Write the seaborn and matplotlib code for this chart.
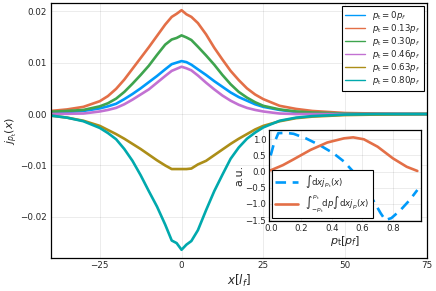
import numpy as np
import pandas as pd
import matplotlib
matplotlib.use('Agg')
import matplotlib.pyplot as plt
import seaborn as sns

# main panel: current density j_{p_t}(x) for several p_t
x = [-40, -35, -30, -25, -22.5, -20, -17.5, -15, -12.5, -10, -7.5, -5, -3, -1.5, 0, 1.5, 3, 5, 7.5, 10, 12.5, 15,
     17.5, 20, 22.5, 25, 30, 35, 40, 50, 60, 75]
j_000 = [0.0003, 0.0004, 0.0006, 0.0011, 0.0015, 0.0020, 0.0029, 0.0039, 0.0050, 0.0062, 0.0074, 0.0087, 0.0097,
         0.0100, 0.0103, 0.0101, 0.0096, 0.0087, 0.0076, 0.0064, 0.0053, 0.0042, 0.0033, 0.0026, 0.0019, 0.0014,
         0.0008, 0.0004, 0.0002, 0.0001, 0.0, 0.0]
j_013 = [0.0006, 0.0009, 0.0014, 0.0025, 0.0035, 0.0049, 0.0067, 0.0088, 0.0109, 0.0130, 0.0152, 0.0174, 0.0189,
         0.0195, 0.0202, 0.0194, 0.0189, 0.0177, 0.0155, 0.0129, 0.0106, 0.0084, 0.0066, 0.0050, 0.0038, 0.0029,
         0.0016, 0.0010, 0.0006, 0.0002, 0.0001, 0.0]
j_030 = [0.00045, 0.0006, 0.0008, 0.0015, 0.0021, 0.0030, 0.0043, 0.0059, 0.0076, 0.0094, 0.0115, 0.0135, 0.0145,
         0.0148, 0.0153, 0.0149, 0.0144, 0.0131, 0.0114, 0.0096, 0.0076, 0.0058, 0.0043, 0.0032, 0.0023, 0.0016,
         0.0009, 0.0005, 0.0003, 0.0001, 0.0, 0.0]
j_046 = [0.0, 0.00005, 0.0001, 0.0005, 0.0008, 0.0012, 0.0019, 0.0028, 0.0038, 0.0048, 0.0061, 0.0074, 0.0084,
         0.0088, 0.0092, 0.0089, 0.0085, 0.0075, 0.0061, 0.0048, 0.0036, 0.0026, 0.0018, 0.0012, 0.0008, 0.0005,
         0.0001, 0.0, 0.0, 0.0, 0.0, 0.0]
j_063 = [-0.0003, -0.0007, -0.0013, -0.0023, -0.0031, -0.0039, -0.0048, -0.0058, -0.0068, -0.0079, -0.0090, -0.0100,
         -0.0107, -0.0107, -0.0107, -0.0107, -0.0106, -0.0098, -0.0091, -0.0080, -0.0069, -0.0058, -0.0048, -0.0039,
         -0.0030, -0.0023, -0.0014, -0.0008, -0.0005, -0.0002, -0.0001, 0.0]
j_080 = [-0.0003, -0.0007, -0.0014, -0.0027, -0.0037, -0.0049, -0.0068, -0.0091, -0.0119, -0.0150, -0.0180, -0.0215,
         -0.0246, -0.0251, -0.0264, -0.0254, -0.0247, -0.0226, -0.0187, -0.0150, -0.0118, -0.0087, -0.0065, -0.0048,
         -0.0036, -0.0026, -0.0013, -0.0007, -0.0004, -0.0001, 0.0, 0.0]
labels = [r'$p_\mathrm{t} = 0p_f$', r'$p_\mathrm{t} = 0.13p_f$', r'$p_\mathrm{t} = 0.30p_f$',
          r'$p_\mathrm{t} = 0.46p_f$', r'$p_\mathrm{t} = 0.63p_f$', r'$p_\mathrm{t} = 0.80p_f$']
colors = ['#009AFA', '#E36F47', '#3EA44E', '#C271D2', '#AC8E18', '#00A9AD']

# inset: integrated quantities vs p_t
p = [0.0, 0.02, 0.05, 0.1, 0.15, 0.23, 0.32, 0.41, 0.48, 0.54, 0.61, 0.67, 0.72, 0.75, 0.79, 0.85, 0.91, 0.96]
int_j = [0.5, 0.85, 1.19, 1.2, 1.17, 1.03, 0.82, 0.57, 0.31, 0.0, -0.36, -0.88, -1.29, -1.5, -1.44, -1.19, -0.88, -0.57]
p2 = [0.0, 0.08, 0.15, 0.26, 0.37, 0.48, 0.54, 0.61, 0.70, 0.80, 0.89, 0.96]
int_pj = [0.04, 0.2, 0.38, 0.67, 0.9, 1.03, 1.06, 1.0, 0.77, 0.41, 0.15, 0.02]

sns.set_style('white')
plt.rcParams['font.family'] = ['DejaVu Sans']
plt.rcParams['mathtext.fontset'] = 'dejavusans'

series = [j_000, j_013, j_030, j_046, j_063, j_080]
df = pd.DataFrame({'x': x * len(series),
                   'j': sum(series, []),
                   'label': sum([[l] * len(x) for l in labels], [])})

fig = plt.figure(figsize=(4.36, 2.91), dpi=100)
ax = fig.add_axes([0.1163, 0.1134, 0.8627, 0.8763])
sns.lineplot(data=df, x='x', y='j', hue='label', hue_order=labels, palette=colors,
             linewidth=1.9, ax=ax, legend=False)

ax.set_xlim(-40, 75)
ax.set_ylim(-0.028, 0.0216)
ax.set_xticks([-25, 0, 25, 50, 75])
ax.set_yticks([-0.02, -0.01, 0.0, 0.01, 0.02])
ax.set_yticklabels(['\u22120.02', '\u22120.01', '0.00', '0.01', '0.02'])
ax.grid(True, color='#000000', alpha=0.09, linewidth=0.6)
ax.tick_params(labelsize=6.3, direction='in', length=2, width=0.6, pad=2.5)
for s in ax.spines.values():
    s.set_color('black')
    s.set_linewidth(0.9)
ax.set_xlabel(r'$x[l_f]$', fontsize=8.5, labelpad=2)
ax.set_ylabel(r'$j_{p_\mathrm{t}}(x)$', fontsize=8, labelpad=0.5)

handles = [matplotlib.lines.Line2D([], [], color=c, lw=1.0) for c in colors]
leg = ax.legend(handles, labels, loc='upper right', fontsize=6.2, frameon=True, fancybox=False,
                edgecolor='black', framealpha=1, borderaxespad=0.35, handlelength=2.3,
                labelspacing=0.0)
leg.get_frame().set_linewidth(0.8)

# inset
ins = fig.add_axes([0.617, 0.2405, 0.349, 0.313])
ins.set_facecolor('white')
sns.lineplot(x=p, y=int_j, color='#009AFA', linewidth=1.9, ax=ins,
             label=r'$\int \mathrm{d}x j_{p_\mathrm{t}}(x)$')
ins.lines[-1].set_dashes([4, 2.5])
sns.lineplot(x=p2, y=int_pj, color='#E36F47', linewidth=1.9, ax=ins,
             label=r'$\int_{-p_\mathrm{t}}^{p_\mathrm{t}}\mathrm{d}p\int\mathrm{d}x j_p(x)$')
ins.set_xlim(-0.011, 0.985)
ins.set_ylim(-1.53, 1.29)
ins.set_xticks([0.0, 0.2, 0.4, 0.6, 0.8])
ins.set_yticks([-1.5, -1.0, -0.5, 0.0, 0.5, 1.0])
ins.set_yticklabels(['\u22121.5', '\u22121.0', '\u22120.5', '0.0', '0.5', '1.0'])
ins.grid(True, color='#000000', alpha=0.09, linewidth=0.6)
ins.tick_params(labelsize=6.2, direction='in', length=2, width=0.6, pad=2)
for s in ins.spines.values():
    s.set_color('black')
    s.set_linewidth(0.9)
ins.set_xlabel(r'$p_\mathrm{t}[p_f]$', fontsize=8, labelpad=1)
ins.set_ylabel('a.u.', fontsize=8, labelpad=1)
il = ins.legend(loc='lower left', bbox_to_anchor=(0.02, 0.03), fontsize=6.2, frameon=True,
                fancybox=False, edgecolor='black', framealpha=1, borderaxespad=0.0,
                handlelength=2.6, labelspacing=0.4)
il.get_frame().set_linewidth(0.8)

fig.savefig('out.png', dpi=100)
